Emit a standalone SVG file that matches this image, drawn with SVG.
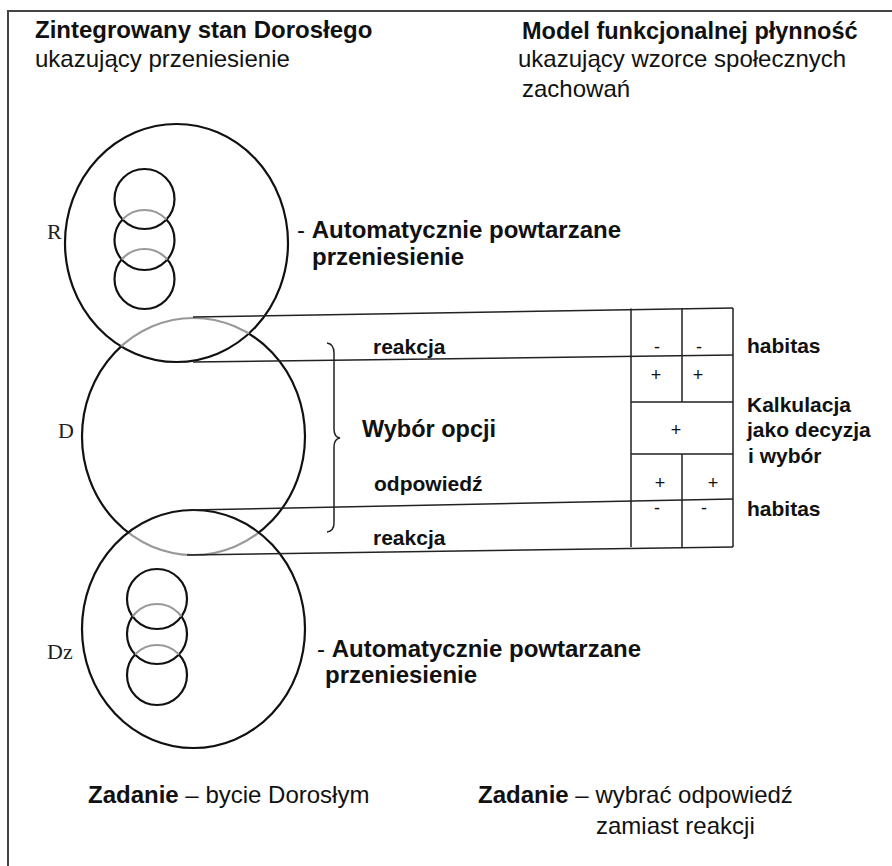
<svg xmlns="http://www.w3.org/2000/svg" width="892" height="866" viewBox="0 0 892 866">
<style>
.bg{fill:#fff}
.frame{fill:none;stroke:#444;stroke-width:2}
.ring{fill:none;stroke:#111;stroke-width:2.2}
.ghost{fill:none;stroke:#999;stroke-width:2.2}
.ln{fill:none;stroke:#222;stroke-width:1.5}
.t{font-family:"Liberation Sans",Arial,sans-serif;fill:#111}
.b{font-weight:bold}
.h{font-size:24px;font-weight:bold}
.r24{font-size:24px}
.s21{font-size:21px;font-weight:bold}
.sg{font-size:18px;text-anchor:middle}
.lab{font-family:"Liberation Serif","Times New Roman",serif;font-size:22px;fill:#222}
</style>
<defs>
<clipPath id="inR"><ellipse cx="176.5" cy="243" rx="111.5" ry="119"/></clipPath>
<clipPath id="inDz"><ellipse cx="193.5" cy="629" rx="111.5" ry="119"/></clipPath>
<clipPath id="outRDz"><path clip-rule="evenodd" d="M0,0H892V866H0Z M65,243a111.5,119 0 1,0 223,0a111.5,119 0 1,0 -223,0Z M82,629a111.5,119 0 1,0 223,0a111.5,119 0 1,0 -223,0Z"/></clipPath>
<clipPath id="inRT"><circle cx="144.5" cy="199" r="30"/></clipPath>
<clipPath id="outRT"><path clip-rule="evenodd" d="M0,0H892V866H0Z M114.5,199a30,30 0 1,0 60,0a30,30 0 1,0 -60,0Z"/></clipPath>
<clipPath id="inRM"><circle cx="144.5" cy="240" r="30"/></clipPath>
<clipPath id="outRM"><path clip-rule="evenodd" d="M0,0H892V866H0Z M114.5,240a30,30 0 1,0 60,0a30,30 0 1,0 -60,0Z"/></clipPath>
<clipPath id="inZT"><circle cx="157" cy="599" r="30"/></clipPath>
<clipPath id="outZT"><path clip-rule="evenodd" d="M0,0H892V866H0Z M127,599a30,30 0 1,0 60,0a30,30 0 1,0 -60,0Z"/></clipPath>
<clipPath id="inZM"><circle cx="157" cy="634" r="30"/></clipPath>
<clipPath id="outZM"><path clip-rule="evenodd" d="M0,0H892V866H0Z M127,634a30,30 0 1,0 60,0a30,30 0 1,0 -60,0Z"/></clipPath>
</defs>
<rect class="bg" x="0" y="0" width="892" height="866"/>
<path class="frame" d="M8,866V11H892"/>

<g id="titles">
<text class="t h" x="35" y="38">Zintegrowany stan Dorosłego</text>
<text class="t r24" x="35" y="67">ukazujący przeniesienie</text>
<text class="t h" x="522" y="39" style="font-size:23.5px">Model funkcjonalnej płynność</text>
<text class="t r24" x="518" y="67">ukazujący wzorce społecznych</text>
<text class="t r24" x="522" y="97">zachowań</text>
</g>

<g id="node-R">
<ellipse class="ring" cx="176.5" cy="243" rx="111.5" ry="119"/>
<circle class="ring" cx="144.5" cy="199" r="30"/>
<circle class="ring" cx="144.5" cy="240" r="30" clip-path="url(#outRT)"/>
<circle class="ghost" cx="144.5" cy="240" r="30" clip-path="url(#inRT)"/>
<circle class="ring" cx="144.5" cy="279" r="30" clip-path="url(#outRM)"/>
<circle class="ghost" cx="144.5" cy="279" r="30" clip-path="url(#inRM)"/>
<text class="lab" x="47" y="239">R</text>
<text class="t h" x="297" y="238"><tspan style="font-weight:normal">- </tspan>Automatycznie powtarzane</text>
<text class="t h" x="312" y="265">przeniesienie</text>
</g>

<g id="node-D">
<ellipse class="ring" cx="193.5" cy="436.5" rx="111.5" ry="118.5" clip-path="url(#outRDz)"/>
<ellipse class="ghost" cx="193.5" cy="436.5" rx="111.5" ry="118.5" clip-path="url(#inR)"/>
<ellipse class="ghost" cx="193.5" cy="436.5" rx="111.5" ry="118.5" clip-path="url(#inDz)"/>
<text class="lab" x="58" y="438">D</text>
</g>

<g id="node-Dz">
<ellipse class="ring" cx="193.5" cy="629" rx="111.5" ry="119"/>
<circle class="ring" cx="157" cy="599" r="30"/>
<circle class="ring" cx="157" cy="634" r="30" clip-path="url(#outZT)"/>
<circle class="ghost" cx="157" cy="634" r="30" clip-path="url(#inZT)"/>
<circle class="ring" cx="157" cy="675" r="30" clip-path="url(#outZM)"/>
<circle class="ghost" cx="157" cy="675" r="30" clip-path="url(#inZM)"/>
<text class="lab" x="47" y="659">Dz</text>
<text class="t h" x="317" y="657"><tspan style="font-weight:normal">- </tspan>Automatycznie powtarzane</text>
<text class="t h" x="325" y="683">przeniesienie</text>
</g>

<g id="connectors">
<path class="ln" d="M193,317L733,308"/>
<path class="ln" d="M193,362L733,355"/>
<path class="ln" d="M190,510L733,499"/>
<path class="ln" d="M187,555L733,547"/>
<path class="ln" d="M327,343Q334,344 334,353V429Q334,437 340,438Q334,439 334,447V523Q334,531 327,532"/>
</g>

<g id="choice">
<text class="t s21" x="373" y="354">reakcja</text>
<text class="t b" x="362" y="437" style="font-size:23.5px">Wybór opcji</text>
<text class="t s21" x="374" y="491">odpowiedź</text>
<text class="t s21" x="373" y="545">reakcja</text>
</g>

<g id="table">
<path class="ln" d="M631,308.5V547M733,308V547M682,308.5V402M682,454V547M631,402H733M631,454H733"/>
<text class="t sg" x="657" y="353">-</text>
<text class="t sg" x="699" y="353">-</text>
<text class="t sg" x="656" y="381">+</text>
<text class="t sg" x="698" y="381">+</text>
<text class="t sg" x="676" y="436">+</text>
<text class="t sg" x="660" y="489">+</text>
<text class="t sg" x="713" y="489">+</text>
<text class="t sg" x="657" y="514">-</text>
<text class="t sg" x="704" y="514">-</text>
</g>

<g id="side-labels">
<text class="t s21" x="747" y="353">habitas</text>
<text class="t s21" x="747" y="412">Kalkulacja</text>
<text class="t s21" x="747" y="437">jako decyzja</text>
<text class="t s21" x="748" y="463">i wybór</text>
<text class="t s21" x="747" y="516">habitas</text>
</g>

<g id="tasks">
<text class="t r24" x="88" y="803"><tspan class="b">Zadanie</tspan> – bycie Dorosłym</text>
<text class="t r24" x="478" y="803"><tspan class="b">Zadanie</tspan> – wybrać odpowiedź</text>
<text class="t r24" x="596" y="834">zamiast reakcji</text>
</g>
</svg>
